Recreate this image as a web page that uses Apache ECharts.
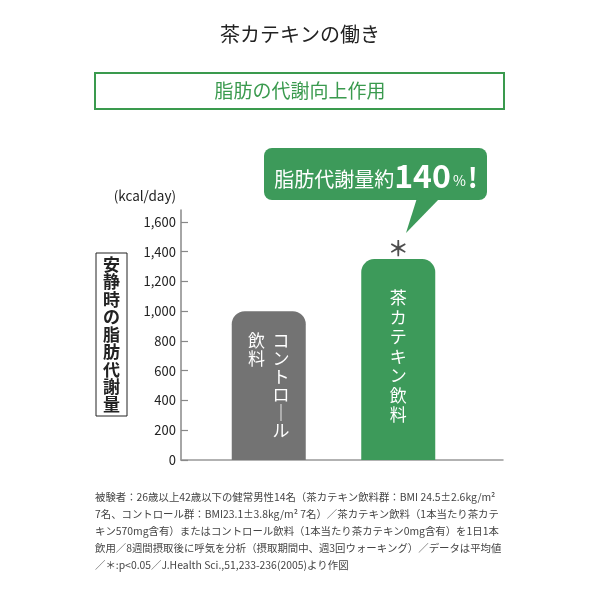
<!DOCTYPE html>
<html>
<head>
<meta charset="utf-8">
<script src="https://cdn.jsdelivr.net/npm/echarts@6/dist/echarts.min.js"></script>
<style>
html,body{margin:0;padding:0;background:#fff;}
#chart{width:600px;height:600px;}
</style>
</head>
<body>
<div id="chart"></div>
<script>
// ---- data ----
const categories = ['コントロール飲料', '茶カテキン飲料'];
const barColumns = [['コントロール', '飲料'], ['茶カテキン飲料']]; // vertical text columns, right to left
const values = [1000, 1350];
const significance = ['', '＊'];
const yTicks = [0, 200, 400, 600, 800, 1000, 1200, 1400, 1600];
const titleText = '茶カテキンの働き';
const subtitleText = '脂肪の代謝向上作用';
const yAxisTitle = '安静時の脂肪代謝量';
const unitText = '(kcal/day)';
const calloutParts = ['脂肪代謝量約', '140', '%', '!'];
const footnoteLines = [
  '被験者：26歳以上42歳以下の健常男性14名（茶カテキン飲料群：BMI 24.5±2.6kg/m²',
  '7名、コントロール群：BMI23.1±3.8kg/m² 7名）／茶カテキン飲料（1本当たり茶カテ',
  'キン570mg含有）またはコントロール飲料（1本当たり茶カテキン0mg含有）を1日1本',
  '飲用／8週間摂取後に呼気を分析（摂取期間中、週3回ウォーキング）／データは平均値',
  '／＊:p<0.05／J.Health Sci.,51,233-236(2005)より作図'
];

// ---- style ----
const FONT = '"Noto Sans CJK JP","Noto Sans",sans-serif';
const GREEN = '#3d9a5a';
const GREY = '#737373';
const barColors = [GREY, GREEN];
const labelStyles = [
  { distance: 20, lineHeight: 18 },
  { distance: 29, lineHeight: 19.5 }
];

function verticalText(cols) {
  const n = Math.max(...cols.map(c => c.length));
  const rev = cols.slice().reverse();
  const lines = [];
  for (let i = 0; i < n; i++) {
    lines.push(rev.map(c => {
      const ch = c[i] || '\u3000';
      return ch === 'ー' ? '｜' : ch;
    }).join('  '));
  }
  return lines.join('\n');
}

const chart = echarts.init(document.getElementById('chart'), null, { renderer: 'canvas' });

const option = {
  backgroundColor: '#fff',
  textStyle: { fontFamily: FONT },
  animation: false,
  grid: [
    { left: 204, width: 259, top: 210, bottom: 140 },
    { left: 181, right: 97, top: 210, bottom: 140 }
  ],
  xAxis: [
    {
      type: 'category', gridIndex: 0, data: categories,
      axisLine: { show: false }, axisTick: { show: false }, axisLabel: { show: false }
    },
    {
      type: 'value', gridIndex: 1, min: 0, max: 1,
      axisLine: { show: true, lineStyle: { color: '#999', width: 1.5 } },
      axisTick: { show: false }, axisLabel: { show: false }, splitLine: { show: false }
    }
  ],
  yAxis: [
    {
      type: 'value', gridIndex: 0, min: 0, max: 1680, interval: 200, offset: 23,
      name: unitText, nameLocation: 'end', nameGap: 7,
      nameTextStyle: { align: 'right', verticalAlign: 'bottom', color: '#222', fontSize: 13.5, padding: [0, 5, 0, 0], fontFamily: FONT },
      axisLine: { show: true, lineStyle: { color: '#888', width: 1.5 } },
      axisTick: { show: true, inside: true, length: 7, customValues: yTicks, lineStyle: { color: '#888', width: 1.2 } },
      axisLabel: {
        customValues: yTicks, margin: 5, color: '#222', fontSize: 13, fontFamily: FONT,
        formatter: v => (yTicks.indexOf(v) >= 0 ? v.toLocaleString('en-US') : '')
      },
      splitLine: { show: false }
    },
    { type: 'value', gridIndex: 1, show: false, min: 0, max: 1 }
  ],
  series: [
    {
      type: 'bar', xAxisIndex: 0, yAxisIndex: 0, barWidth: 74,
      data: values.map((v, i) => ({
        value: v,
        itemStyle: { color: barColors[i], borderRadius: [13, 13, 0, 0] },
        label: {
          show: true, position: 'insideTop', distance: labelStyles[i].distance,
          lineHeight: labelStyles[i].lineHeight, fontSize: 17, color: '#fff', fontFamily: FONT,
          align: 'center', verticalAlign: 'top',
          formatter: () => verticalText(barColumns[i])
        }
      })),
      silent: true
    },
    {
      type: 'scatter', xAxisIndex: 0, yAxisIndex: 0, symbolSize: 0,
      data: values,
      label: {
        show: true, position: 'top', distance: 1, fontSize: 21, fontWeight: 'bold', color: '#222', fontFamily: FONT,
        formatter: p => significance[p.dataIndex]
      },
      silent: true
    }
  ],
  graphic: [
    {
      type: 'text', left: 'center', top: 24,
      style: { text: titleText, fontSize: 20, fill: '#222', fontFamily: FONT }
    },
    {
      type: 'rect', shape: { x: 95, y: 73, width: 409, height: 36 },
      style: { fill: 'none', stroke: '#3a9a4e', lineWidth: 2 }
    },
    {
      type: 'text', x: 300, y: 91,
      style: { text: subtitleText, fontSize: 19, fill: '#3a9a4e', fontFamily: FONT, align: 'center', verticalAlign: 'middle' }
    },
    {
      type: 'rect', shape: { x: 96, y: 253, width: 31, height: 163 },
      style: { fill: 'none', stroke: '#222', lineWidth: 1 }
    },
    {
      type: 'text', x: 111.5, y: 334.5,
      style: {
        text: yAxisTitle.split('').join('\n'), fontSize: 17, lineHeight: 17.5, fontWeight: 'bold',
        fill: '#222', fontFamily: FONT, align: 'center', verticalAlign: 'middle'
      }
    },
    {
      type: 'rect', shape: { x: 264, y: 148, width: 223, height: 52, r: 8 },
      style: { fill: GREEN }
    },
    {
      type: 'polygon', shape: { points: [[417, 198], [440, 198], [406, 233]] },
      style: { fill: GREEN }
    },
    {
      type: 'text', x: 376, y: 176,
      style: {
        text: '{a|' + calloutParts[0] + '}{b|' + calloutParts[1] + '}{c|' + calloutParts[2] + '}{d|' + calloutParts[3] + '}',
        align: 'center', verticalAlign: 'middle', fill: '#fff', fontFamily: FONT,
        rich: {
          a: { fontSize: 20, fill: '#fff', fontFamily: FONT, verticalAlign: 'bottom', padding: [0, 0, 3, 0] },
          b: { fontSize: 32, fontWeight: 'bold', fill: '#fff', fontFamily: FONT, verticalAlign: 'bottom' },
          c: { fontSize: 14, fill: '#fff', fontFamily: FONT, verticalAlign: 'bottom', padding: [0, 2, 4, 2] },
          d: { fontSize: 27, fontWeight: 'bold', fill: '#fff', fontFamily: FONT, verticalAlign: 'bottom', padding: [0, 0, 1, 0] }
        }
      }
    },
    {
      type: 'text', x: 95, y: 489,
      style: {
        text: footnoteLines.join('\n'), fontSize: 10.4, lineHeight: 17, fill: '#444', fontFamily: FONT,
        align: 'left', verticalAlign: 'top'
      }
    }
  ]
};

chart.setOption(option);
</script>
</body>
</html>
